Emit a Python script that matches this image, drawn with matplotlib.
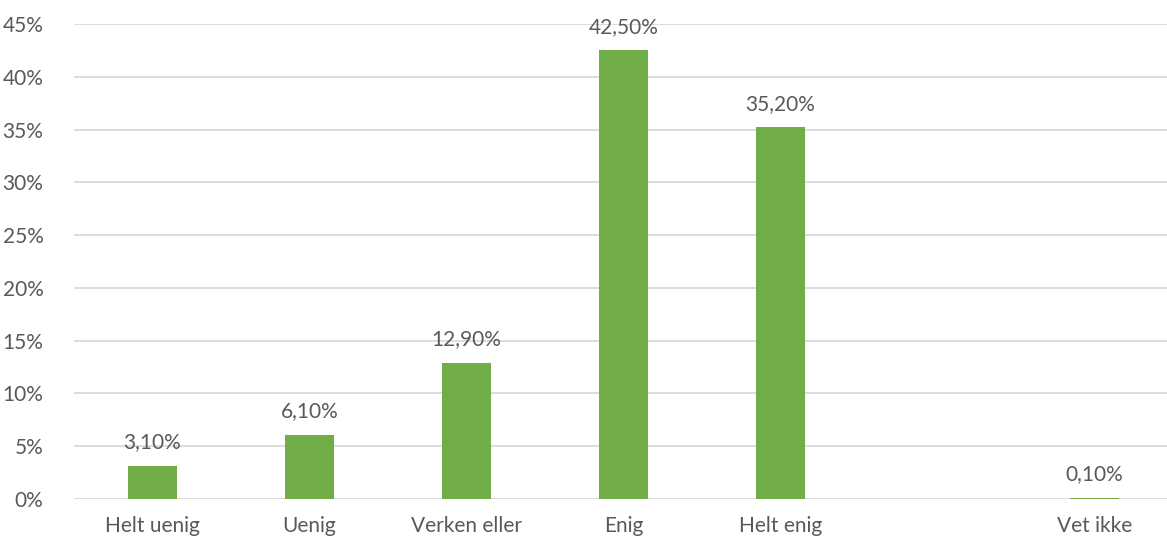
import matplotlib.pyplot as plt
from matplotlib.ticker import FuncFormatter

categories = ['Helt uenig', 'Uenig', 'Verken eller', 'Enig', 'Helt enig', '', 'Vet ikke']
values = [3.1, 6.1, 12.9, 42.5, 35.2, None, 0.1]

plt.rcParams['font.family'] = ['Lato', 'DejaVu Sans']
text_color = '#595959'

fig = plt.figure(figsize=(11.67, 5.43), dpi=100)
ax = fig.add_axes([74 / 1167, 44 / 543, 1099 / 1167, 475 / 543])

xs = [i for i, v in enumerate(values) if v is not None]
vals = [v for v in values if v is not None]
bars = ax.bar(xs, vals, width=0.31, color='#70AD47', zorder=3)
for x, v in zip(xs, vals):
    ax.text(x, v + 1.3, f'{v:.2f}%'.replace('.', ','), ha='center', va='bottom',
            fontsize=15, color=text_color)

ax.set_xlim(-0.5, len(categories) - 0.5)
ax.set_ylim(0, 45)
ax.set_yticks(range(0, 46, 5))
ax.yaxis.set_major_formatter(FuncFormatter(lambda v, p: f'{v:.0f}%'))
ax.set_xticks(range(len(categories)))
ax.set_xticklabels(categories)
ax.tick_params(axis='both', length=0, labelsize=15, colors=text_color)
ax.tick_params(axis='x', pad=12)
ax.tick_params(axis='y', pad=22)
ax.grid(axis='y', color='#D9D9D9', linewidth=1.3, zorder=0)
for s in ax.spines.values():
    s.set_visible(False)

fig.savefig('out.png', dpi=100)
